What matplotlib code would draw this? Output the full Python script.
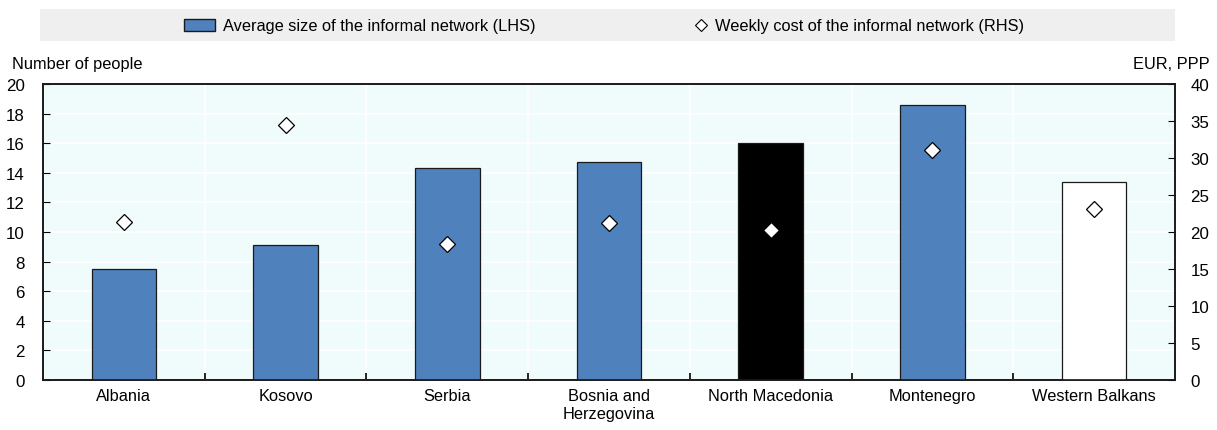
import matplotlib
matplotlib.use("Agg")
import matplotlib.pyplot as plt
from matplotlib.patches import Rectangle
from matplotlib.lines import Line2D
import numpy as np

plt.rcParams['font.family'] = ['Liberation Sans', 'DejaVu Sans']

categories = ["Albania", "Kosovo", "Serbia", "Bosnia and\nHerzegovina",
              "North Macedonia", "Montenegro", "Western Balkans"]
network_size = [7.5, 9.1, 14.3, 14.7, 16.0, 18.6, 13.4]
weekly_cost = [21.3, 34.4, 18.4, 21.2, 20.3, 31.1, 23.1]
bar_colors = ["#4f81bd", "#4f81bd", "#4f81bd", "#4f81bd", "#000000", "#4f81bd", "#ffffff"]

W, H = 1217, 431
fig = plt.figure(figsize=(W/100, H/100), dpi=100)
ax = fig.add_axes([43/W, 1-381/H, (1175-43)/W, (381-85)/H])
ax.set_facecolor("#f0fbfb")
x = np.arange(len(categories))
ax.bar(x, network_size, width=0.4, color=bar_colors, edgecolor="#1a1a1a", linewidth=0.9, zorder=3)
ax.set_xlim(-0.5, len(categories) - 0.5)
ax.set_ylim(0, 20)
ax.set_yticks(np.arange(0, 21, 2))
ax.set_xticks(x)
ax.set_xticklabels(categories)
ax.set_xticks(np.arange(0.5, len(categories) - 0.5, 1), minor=True)
ax.tick_params(axis='x', which='major', length=0, labelsize=11.8, pad=6)
ax.tick_params(axis='x', which='minor', length=5, direction='in', width=1.2)
ax.tick_params(axis='y', direction='in', length=5, labelsize=12.2, pad=13)
ax.grid(True, which='major', axis='y', color='white', linewidth=1.2, zorder=0)
ax.grid(True, which='minor', axis='x', color='white', linewidth=1.2, zorder=0)
for s in ax.spines.values():
    s.set_linewidth(1.2)
    s.set_color("#1a1a1a")

ax2 = ax.twinx()
ax2.set_ylim(0, 40)
ax2.set_yticks(np.arange(0, 41, 5))
ax2.tick_params(axis='y', direction='in', length=5, labelsize=12.2, pad=11)
ax2.plot(x, weekly_cost, linestyle='none', marker='D', markersize=8,
         markerfacecolor='white', markeredgecolor='black', markeredgewidth=0.9, zorder=5)
for s in ax2.spines.values():
    s.set_linewidth(1.2)
    s.set_color("#1a1a1a")

fig.text(12/W, 1-65/H, "Number of people", fontsize=11.8, ha='left', va='center')
fig.text(1210/W, 1-65/H, "EUR, PPP", fontsize=11.8, ha='right', va='center')

# legend background
fig.patches.append(Rectangle((40/W, 1-42/H), (1175-40)/W, 32/H,
                             transform=fig.transFigure, facecolor="#efefef", edgecolor='none'))
bar_handle = Rectangle((0, 0), 1, 1, facecolor="#4f81bd", edgecolor="#1a1a1a", linewidth=1.0)
dia_handle = Line2D([], [], linestyle='none', marker='D', markersize=6,
                    markerfacecolor='white', markeredgecolor='black', markeredgewidth=0.8)
leg1 = fig.legend([bar_handle], ["Average size of the informal network (LHS)"],
                  loc='center left', bbox_to_anchor=(184/W, 1-27/H), frameon=False,
                  fontsize=11.8, handlelength=1.9, handleheight=0.8, handletextpad=0.45,
                  borderpad=0, borderaxespad=0)
leg2 = fig.legend([dia_handle], ["Weekly cost of the informal network (RHS)"],
                  loc='center left', bbox_to_anchor=(695/W, 1-27/H), frameon=False,
                  fontsize=11.8, handlelength=0.7, handletextpad=0.5,
                  borderpad=0, borderaxespad=0)

fig.savefig("out.png", dpi=100)
